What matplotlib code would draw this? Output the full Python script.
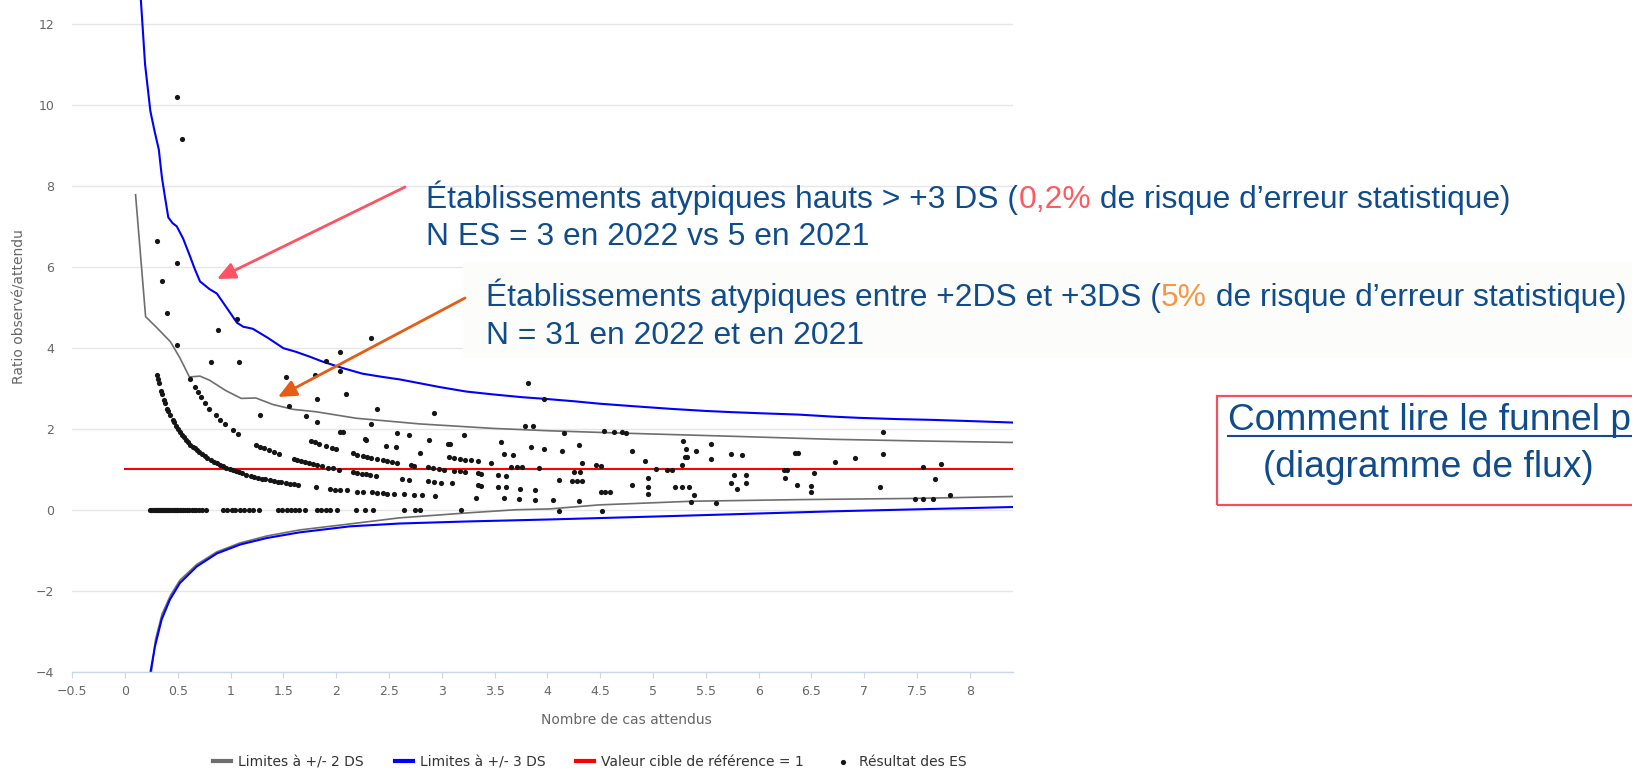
import matplotlib
matplotlib.use("Agg")
import matplotlib.pyplot as plt
from matplotlib.lines import Line2D
from matplotlib.patches import Rectangle, FancyArrowPatch
from matplotlib.text import Annotation

W, H, DPI = 1633, 771, 100

# ---------------- data ----------------
x_ticks = [-0.5, 0, 0.5, 1, 1.5, 2, 2.5, 3, 3.5, 4, 4.5, 5, 5.5, 6, 6.5, 7, 7.5, 8]
x_tick_labels = ["\u22120.5", "0", "0.5", "1", "1.5", "2", "2.5", "3", "3.5", "4",
                 "4.5", "5", "5.5", "6", "6.5", "7", "7.5", "8"]
y_ticks = [-4, -2, 0, 2, 4, 6, 8, 10, 12]
y_tick_labels = ["\u22124", "\u22122", "0", "2", "4", "6", "8", "10", "12"]

# +3 DS (upper) limit
lim3_up_x = [0.15, 0.19, 0.24, 0.28, 0.32, 0.35, 0.38, 0.41, 0.45, 0.49,
             0.55, 0.61, 0.66, 0.71, 0.80, 0.87, 0.96, 1.06, 1.12, 1.21,
             1.35, 1.50, 1.62, 1.75, 1.87, 2.06, 2.25, 2.44, 2.60, 2.80,
             2.98, 3.23, 3.48, 3.76, 3.97, 4.25, 4.49, 4.80, 5.18, 5.50,
             5.75, 6.05, 6.38, 6.70, 6.95, 7.30, 7.64, 8.00, 8.45]
lim3_up_y = [12.60, 11.00, 9.85, 9.35, 8.90, 8.20, 7.70, 7.22, 7.08, 7.00,
             6.70, 6.30, 5.95, 5.64, 5.45, 5.34, 5.00, 4.62, 4.52, 4.47,
             4.25, 3.99, 3.90, 3.78, 3.66, 3.50, 3.36, 3.28, 3.22, 3.12,
             3.03, 2.92, 2.85, 2.78, 2.74, 2.68, 2.62, 2.56, 2.49, 2.44,
             2.41, 2.38, 2.35, 2.30, 2.27, 2.24, 2.22, 2.19, 2.15]
# -3 DS (lower) limit
lim3_low_x = [0.235, 0.243, 0.284, 0.347, 0.425, 0.52, 0.68, 0.87, 1.09, 1.34,
              1.65, 2.13, 2.60, 3.23, 4.02, 5.12, 6.69, 8.45]
lim3_low_y = [-4.30, -3.98, -3.37, -2.71, -2.22, -1.81, -1.40, -1.08, -0.86, -0.70,
              -0.56, -0.41, -0.34, -0.29, -0.24, -0.16, -0.04, 0.07]
# +2 DS (upper) limit
lim2_up_x = [0.10, 0.195, 0.30, 0.43, 0.52, 0.61, 0.71, 0.80, 0.95, 1.10, 1.24, 1.40,
             1.59, 1.81, 2.19, 2.79, 3.48, 4.02, 4.74, 5.81, 6.69, 7.50, 8.45]
lim2_up_y = [7.78, 4.77, 4.50, 4.15, 3.75, 3.28, 3.30, 3.20, 2.95, 2.75, 2.76, 2.60,
             2.48, 2.42, 2.26, 2.12, 2.01, 1.95, 1.89, 1.81, 1.74, 1.70, 1.66]
# -2 DS (lower) limit
lim2_low_x = [0.245, 0.29, 0.35, 0.43, 0.52, 0.68, 0.87, 1.09, 1.34, 1.65,
              2.13, 2.60, 3.23, 3.70, 4.02, 4.49, 5.37, 6.38, 7.48, 8.45]
lim2_low_y = [-4.10, -3.20, -2.58, -2.12, -1.74, -1.35, -1.04, -0.82, -0.65, -0.50,
              -0.35, -0.20, -0.08, 0.00, 0.02, 0.12, 0.21, 0.25, 0.28, 0.33]
# reference value
ref_x = [0.0, 8.45]
ref_y = [1.0, 1.0]

# ES results (observed / expected)
es_zero_x = [0.24, 0.25, 0.26, 0.27, 0.28, 0.29, 0.30, 0.31, 0.32, 0.33,
             0.34, 0.35, 0.36, 0.37, 0.38, 0.39, 0.40, 0.41, 0.42, 0.43,
             0.44, 0.45, 0.46, 0.47, 0.48, 0.49, 0.50, 0.52, 0.53, 0.55,
             0.57, 0.59, 0.61, 0.63, 0.65, 0.67, 0.70, 0.73, 0.77, 0.93,
             0.97, 1.01, 1.04, 1.09, 1.13, 1.17, 1.21, 1.27, 1.45, 1.49,
             1.53, 1.57, 1.61, 1.65, 1.70, 1.82, 1.86, 1.90, 1.94, 2.01,
             2.19, 2.27, 2.35, 2.64, 2.75, 2.79, 3.18, 4.11, 4.52]
es_zero_y = [0.0, 0.0, 0.0, 0.0, 0.0, 0.0, 0.0, 0.0, 0.0, 0.0,
             0.0, 0.0, 0.0, 0.0, 0.0, 0.0, 0.0, 0.0, 0.0, 0.0,
             0.0, 0.0, 0.0, 0.0, 0.0, 0.0, 0.0, 0.0, 0.0, 0.0,
             0.0, 0.0, 0.0, 0.0, 0.0, 0.0, 0.0, 0.0, 0.0, 0.0,
             0.0, 0.0, 0.0, 0.0, 0.0, 0.0, 0.0, 0.0, 0.0, 0.0,
             0.0, 0.0, 0.0, 0.0, 0.0, 0.0, 0.0, 0.0, 0.0, 0.0,
             0.0, 0.0, 0.0, 0.0, 0.0, 0.0, 0.0, -0.02, -0.02]
es_k1_x = [0.30, 0.31, 0.32, 0.34, 0.35, 0.37, 0.38, 0.40, 0.41, 0.43,
           0.45, 0.46, 0.48, 0.50, 0.52, 0.54, 0.56, 0.58, 0.60, 0.62,
           0.64, 0.66, 0.68, 0.70, 0.73, 0.76, 0.78, 0.81, 0.84, 0.87,
           0.90, 0.93, 0.96, 0.99, 1.02, 1.05, 1.08, 1.11, 1.15, 1.19,
           1.22, 1.26, 1.30, 1.33, 1.37, 1.41, 1.45, 1.48, 1.52, 1.56,
           1.60, 1.64, 1.81, 1.94, 1.99, 2.04, 2.10, 2.20, 2.25, 2.34,
           2.39, 2.44, 2.48, 2.55, 2.64, 2.74, 2.81, 2.94, 3.32, 3.59,
           3.73, 3.88, 4.05, 4.30, 5.36, 5.60]
es_k1_y = [3.33, 3.23, 3.13, 2.94, 2.86, 2.70, 2.63, 2.50, 2.44, 2.33,
           2.22, 2.17, 2.08, 2.00, 1.92, 1.85, 1.79, 1.72, 1.67, 1.61,
           1.56, 1.52, 1.47, 1.43, 1.37, 1.32, 1.28, 1.23, 1.19, 1.15,
           1.11, 1.08, 1.04, 1.01, 0.98, 0.95, 0.93, 0.90, 0.87, 0.84,
           0.82, 0.79, 0.77, 0.75, 0.73, 0.71, 0.69, 0.68, 0.66, 0.64,
           0.63, 0.61, 0.55, 0.52, 0.50, 0.49, 0.48, 0.45, 0.44, 0.43,
           0.42, 0.41, 0.40, 0.39, 0.38, 0.36, 0.36, 0.34, 0.29, 0.28,
           0.26, 0.25, 0.25, 0.21, 0.18, 0.16]
es_k2_x = [0.62, 0.66, 0.69, 0.72, 0.76, 0.80, 0.86, 0.90, 0.95, 1.02,
           1.07, 1.24, 1.28, 1.32, 1.36, 1.41, 1.46, 1.60, 1.63, 1.67,
           1.70, 1.74, 1.78, 1.82, 1.87, 1.92, 1.97, 2.03, 2.16, 2.20,
           2.24, 2.28, 2.32, 2.38, 2.62, 2.69, 2.87, 2.93, 2.99, 3.10,
           3.34, 3.37, 3.53, 3.61, 3.74, 3.88, 4.51, 4.55, 4.59, 4.95,
           5.39, 7.48, 7.56, 7.65]
es_k2_y = [3.22, 3.03, 2.90, 2.78, 2.63, 2.50, 2.33, 2.22, 2.11, 1.96,
           1.87, 1.61, 1.56, 1.52, 1.47, 1.42, 1.37, 1.25, 1.23, 1.20,
           1.18, 1.15, 1.12, 1.10, 1.07, 1.04, 1.02, 0.99, 0.93, 0.91,
           0.89, 0.88, 0.86, 0.84, 0.76, 0.74, 0.70, 0.68, 0.67, 0.65,
           0.60, 0.59, 0.57, 0.55, 0.52, 0.50, 0.43, 0.43, 0.43, 0.39,
           0.37, 0.26, 0.26, 0.26]
es_k3_x = [1.28, 1.76, 1.80, 1.84, 1.90, 1.96, 2.00, 2.16, 2.20, 2.25,
           2.29, 2.33, 2.39, 2.44, 2.48, 2.53, 2.58, 2.71, 2.74, 2.87,
           2.92, 2.97, 3.02, 3.12, 3.17, 3.22, 3.34, 3.37, 3.53, 3.61,
           4.11, 4.23, 4.28, 4.33, 4.95, 5.21, 5.27, 5.34, 5.74, 5.88,
           6.36, 6.50, 7.15, 7.81]
es_k3_y = [2.34, 1.70, 1.67, 1.63, 1.58, 1.53, 1.50, 1.39, 1.36, 1.33,
           1.31, 1.29, 1.26, 1.23, 1.21, 1.19, 1.16, 1.11, 1.09, 1.05,
           1.03, 1.01, 0.99, 0.96, 0.95, 0.93, 0.90, 0.89, 0.85, 0.83,
           0.74, 0.70, 0.70, 0.70, 0.57, 0.55, 0.55, 0.55, 0.66, 0.66,
           0.62, 0.59, 0.55, 0.37]
es_other_x = [0.30, 0.49, 0.35, 0.40, 0.49, 0.49, 0.54, 0.88, 1.06, 0.81,
              1.08, 2.33, 2.04, 1.90, 2.04, 1.52, 1.80, 2.09, 1.82, 2.39,
              1.55, 1.71, 1.82, 2.33, 2.93, 3.82, 3.79, 3.86, 3.97, 2.04,
              2.06, 2.27, 2.28, 2.58, 2.69, 2.88, 3.06, 3.08, 3.21, 3.56,
              3.84, 3.97, 2.47, 2.57, 2.79, 3.59, 3.67, 3.07, 3.12, 3.17,
              3.22, 3.28, 3.34, 3.47, 3.66, 3.71, 3.76, 3.92, 4.16, 4.54,
              4.63, 4.71, 4.74, 4.14, 4.30, 4.33, 4.46, 4.51, 4.25, 4.31,
              4.80, 4.80, 4.92, 4.95, 5.03, 5.13, 5.18, 5.28, 5.31, 5.30,
              5.32, 5.27, 5.41, 5.55, 5.55, 5.74, 5.84, 5.77, 5.88, 5.80,
              6.24, 6.27, 6.25, 6.34, 6.37, 6.52, 6.50, 6.72, 6.91, 7.18,
              7.18, 7.56, 7.73, 7.67]
es_other_y = [6.65, 6.09, 5.64, 4.87, 4.08, 10.20, 9.16, 4.43, 4.70, 3.66,
              3.66, 4.25, 3.90, 3.67, 3.43, 3.27, 3.33, 2.86, 2.74, 2.50,
              2.56, 2.32, 2.17, 2.12, 2.40, 3.12, 2.08, 2.06, 2.73, 1.93,
              1.91, 1.75, 1.72, 1.90, 1.85, 1.72, 1.62, 1.62, 1.85, 1.67,
              1.56, 1.49, 1.58, 1.56, 1.41, 1.37, 1.36, 1.30, 1.28, 1.26,
              1.24, 1.22, 1.20, 1.15, 1.05, 1.05, 1.05, 1.03, 1.90, 1.95,
              1.93, 1.91, 1.89, 1.44, 1.60, 1.15, 1.11, 1.07, 0.94, 0.94,
              1.44, 0.61, 1.21, 0.78, 1.00, 0.97, 0.97, 1.71, 1.49, 1.31,
              1.31, 1.11, 1.46, 1.62, 1.26, 1.37, 1.35, 0.85, 0.85, 0.52,
              0.98, 0.97, 0.78, 1.41, 1.41, 0.90, 0.45, 1.17, 1.29, 1.93,
              1.38, 1.05, 1.13, 0.76]

legend_labels = ["Limites \u00e0 +/- 2 DS", "Limites \u00e0 +/- 3 DS",
                 "Valeur cible de r\u00e9f\u00e9rence = 1", "R\u00e9sultat des ES"]

# ---------------- styles ----------------
CHART_FONT = "DejaVu Sans"
SLIDE_FONT = "Liberation Sans"
TEXT_BLUE = "#104c8c"
GRAY = "#6e6e6e"
BLUE = "#0000ff"
RED = "#ff0000"


def fx(px):
    return px / W


def fy(py):
    return 1.0 - py / H


fig = plt.figure(figsize=(W / DPI, H / DPI), dpi=DPI, facecolor="white")
ax_left, ax_right, ax_bottom_px = 72.2, 1013.0, 671.7
ax = fig.add_axes([fx(ax_left), fy(ax_bottom_px), (ax_right - ax_left) / W, ax_bottom_px / H])
ax.set_facecolor("white")

g1, = ax.plot(lim2_up_x, lim2_up_y, color=GRAY, lw=1.2, zorder=2)
ax.plot(lim2_low_x, lim2_low_y, color=GRAY, lw=1.2, zorder=2)
b1, = ax.plot(lim3_up_x, lim3_up_y, color=BLUE, lw=1.5, zorder=2.1)
ax.plot(lim3_low_x, lim3_low_y, color=BLUE, lw=1.5, zorder=2.1)
r1, = ax.plot(ref_x, ref_y, color=RED, lw=1.5, zorder=2.2)

es_x = es_zero_x + es_k1_x + es_k2_x + es_k3_x + es_other_x
es_y = es_zero_y + es_k1_y + es_k2_y + es_k3_y + es_other_y
sc = ax.scatter(es_x, es_y, s=14, color="#151515", linewidths=0, zorder=3)

ax.set_xlim(-0.5, (ax_right - 125.0) / 105.6)
ax.set_ylim(-4, 12.59)
ax.set_xticks(x_ticks, labels=x_tick_labels)
ax.set_yticks(y_ticks, labels=y_tick_labels)
ax.grid(axis="y", color="#e6e6e6", lw=1.0, zorder=0)
ax.set_axisbelow(True)
for s in ["top", "right", "left"]:
    ax.spines[s].set_visible(False)
ax.spines["bottom"].set_color("#ccd6eb")
ax.spines["bottom"].set_linewidth(1.0)
ax.tick_params(axis="x", direction="out", length=4.5, width=0.8, color="#ccd6eb",
               pad=5, labelsize=9, labelcolor="#666666")
ax.tick_params(axis="y", length=0, pad=13, labelsize=9, labelcolor="#666666")
for lab in ax.get_xticklabels() + ax.get_yticklabels():
    lab.set_family(CHART_FONT)

fig.text(fx(626.7), fy(720), "Nombre de cas attendus", ha="center", va="center",
         fontsize=10, color="#666666", family=CHART_FONT)
fig.text(fx(20), fy(306.7), "Ratio observ\u00e9/attendu", ha="center", va="center",
         rotation=90, fontsize=10, color="#666666", family=CHART_FONT)

leg = fig.legend([g1, b1, r1, sc], legend_labels, loc="center",
                 bbox_to_anchor=(fx(590), fy(762)), ncol=4, frameon=False,
                 prop={"family": CHART_FONT, "size": 10}, labelcolor="#333333",
                 handlelength=1.3, handletextpad=0.5, columnspacing=2.2,
                 borderpad=0, borderaxespad=0, scatterpoints=1)
for ln in leg.get_lines():
    ln.set_linewidth(3)

# light panel behind the second annotation
fig.add_artist(Rectangle((fx(463), fy(358)), (W - 463) / W, (358 - 262) / H,
                         transform=fig.transFigure, facecolor="#fcfcfa",
                         edgecolor="none", zorder=1))


def colored_line(x_px, base_px, pieces, size):
    prev = fig.text(fx(x_px), fy(base_px), pieces[0][0], color=pieces[0][1],
                    fontsize=size, family=SLIDE_FONT, va="baseline", ha="left", zorder=5)
    for s, c in pieces[1:]:
        a = Annotation(s, xy=(1, 0), xycoords=prev, va="bottom", ha="left",
                       color=c, fontsize=size, family=SLIDE_FONT, zorder=5)
        fig.add_artist(a)
        prev = a


FS = 22.9
colored_line(426.5, 208, [("\u00c9tablissements atypiques hauts > +3 DS (", TEXT_BLUE),
                          ("0,2%", "#ff5a5f"),
                          (" de risque d\u2019erreur statistique)", TEXT_BLUE)], FS)
colored_line(426.5, 245, [("N ES = 3 en 2022 vs 5 en 2021", TEXT_BLUE)], FS)
colored_line(486.0, 306, [("\u00c9tablissements atypiques entre +2DS et +3DS (", TEXT_BLUE),
                          ("5%", "#f79646"),
                          (" de risque d\u2019erreur statistique)", TEXT_BLUE)], FS)
colored_line(486.0, 344, [("N = 31 en 2022 et en 2021", TEXT_BLUE)], FS)

# arrows
fig.add_artist(FancyArrowPatch((fx(405), fy(187)), (fx(217), fy(279)),
                               transform=fig.transFigure,
                               arrowstyle="-|>,head_length=0.55,head_width=0.25",
                               mutation_scale=20, color="#ff5262", lw=2.0,
                               shrinkA=0, shrinkB=0, zorder=6))
fig.add_artist(FancyArrowPatch((fx(465), fy(298)), (fx(278), fy(397)),
                               transform=fig.transFigure,
                               arrowstyle="-|>,head_length=0.55,head_width=0.25",
                               mutation_scale=20, color="#e65c14", lw=2.0,
                               shrinkA=0, shrinkB=0, zorder=6))

# "how to read" box
fig.add_artist(Rectangle((fx(1217), fy(505)), (W + 20 - 1217) / W, (505 - 396) / H,
                         transform=fig.transFigure, facecolor="none",
                         edgecolor="#f0505f", lw=1.6, zorder=5))
fig.text(fx(1228.5), fy(430), "Comment lire le funnel plot", fontsize=26.7,
         family=SLIDE_FONT, color=TEXT_BLUE, va="baseline", ha="left", zorder=6)
fig.add_artist(Line2D([fx(1228.5), 1.0], [fy(436), fy(436)], transform=fig.transFigure,
                      color=TEXT_BLUE, lw=1.5, zorder=6))
fig.text(fx(1263), fy(477), "(diagramme de flux)", fontsize=26.7,
         family=SLIDE_FONT, color=TEXT_BLUE, va="baseline", ha="left", zorder=6)

fig.savefig("out.png", dpi=DPI, facecolor=fig.get_facecolor())
